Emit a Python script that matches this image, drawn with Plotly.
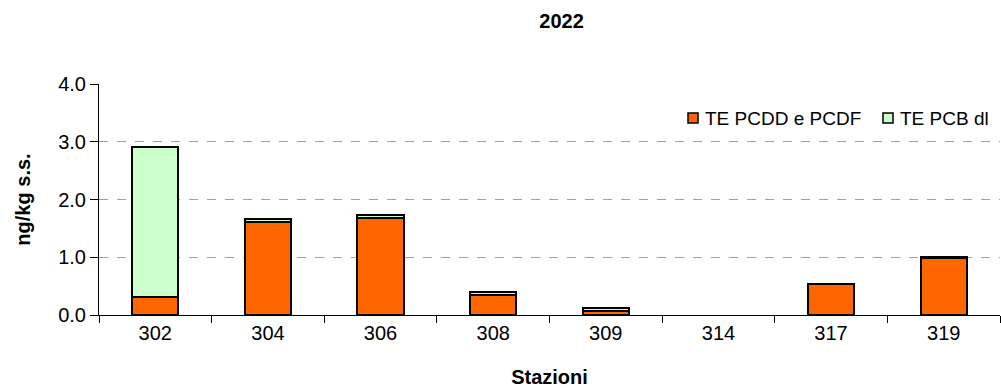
import plotly.graph_objects as go

stations = ["302", "304", "306", "308", "309", "314", "317", "319"]
te_pcdd_pcdf = [0.31, 1.61, 1.68, 0.34, 0.07, None, 0.54, 0.99]
te_pcb_dl = [2.60, 0.05, 0.05, 0.05, 0.05, None, 0.0, 0.02]
y_ticks = [0, 1, 2, 3, 4]
y_tick_labels = ["0.0", "1.0", "2.0", "3.0", "4.0"]

series_names = ["TE PCDD e PCDF", "TE PCB dl"]
series_colors = ["#FF6600", "#CCFFCC"]

FONT = "Liberation Sans, Arial, sans-serif"

fig = go.Figure()
for name, vals, col in zip(series_names, [te_pcdd_pcdf, te_pcb_dl], series_colors):
    fig.add_trace(go.Bar(
        x=stations, y=vals, name=name, showlegend=False,
        marker=dict(color=col, line=dict(color="#000000", width=2)),
        width=0.41,
    ))

# legend drawn as small framed swatches followed by labels
legend_y = 118
legend_items = [(688, 703), (883, 898)]
for (sx, tx), name, col in zip(legend_items, series_names, series_colors):
    fig.add_shape(type="rect", xref="paper", yref="paper",
                  x0=(sx - 99) / 901, x1=(sx + 10 - 99) / 901,
                  y0=(315 - legend_y - 5) / 231, y1=(315 - legend_y + 5) / 231,
                  fillcolor=col, line=dict(color="#000000", width=1.5))
    fig.add_annotation(xref="paper", yref="paper", x=(tx - 99) / 901,
                       y=(315 - legend_y) / 231, xanchor="left", yanchor="middle",
                       text=name, showarrow=False, font=dict(size=19))

fig.update_layout(
    barmode="stack",
    width=1001, height=390,
    margin=dict(l=99, r=1, t=84, b=75),
    paper_bgcolor="white", plot_bgcolor="white",
    font=dict(family=FONT, size=20, color="#000000"),
    title=dict(text="<b>2022</b>", x=0.561, xanchor="center", y=0.945, yanchor="middle",
               font=dict(size=20)),
    showlegend=False,
)
fig.update_xaxes(
    type="category", showline=True, linecolor="#000000", linewidth=1,
    ticks="outside", tickson="boundaries", ticklen=7, tickcolor="#000000",
    title=dict(text="<b>Stazioni</b>", font=dict(size=20), standoff=26),
    tickfont=dict(size=20),
)
fig.update_yaxes(
    range=[0, 4], tickvals=y_ticks, ticktext=y_tick_labels,
    showline=True, linecolor="#000000", linewidth=1,
    ticks="outside", ticklen=8, tickcolor="#000000",
    showgrid=True, gridcolor="#A0A0A0", griddash="dash", gridwidth=1,
    zeroline=False,
    title=dict(text="<b>ng/kg s.s.</b>", font=dict(size=20), standoff=22),
    tickfont=dict(size=20),
)

fig.write_html("out.html")
